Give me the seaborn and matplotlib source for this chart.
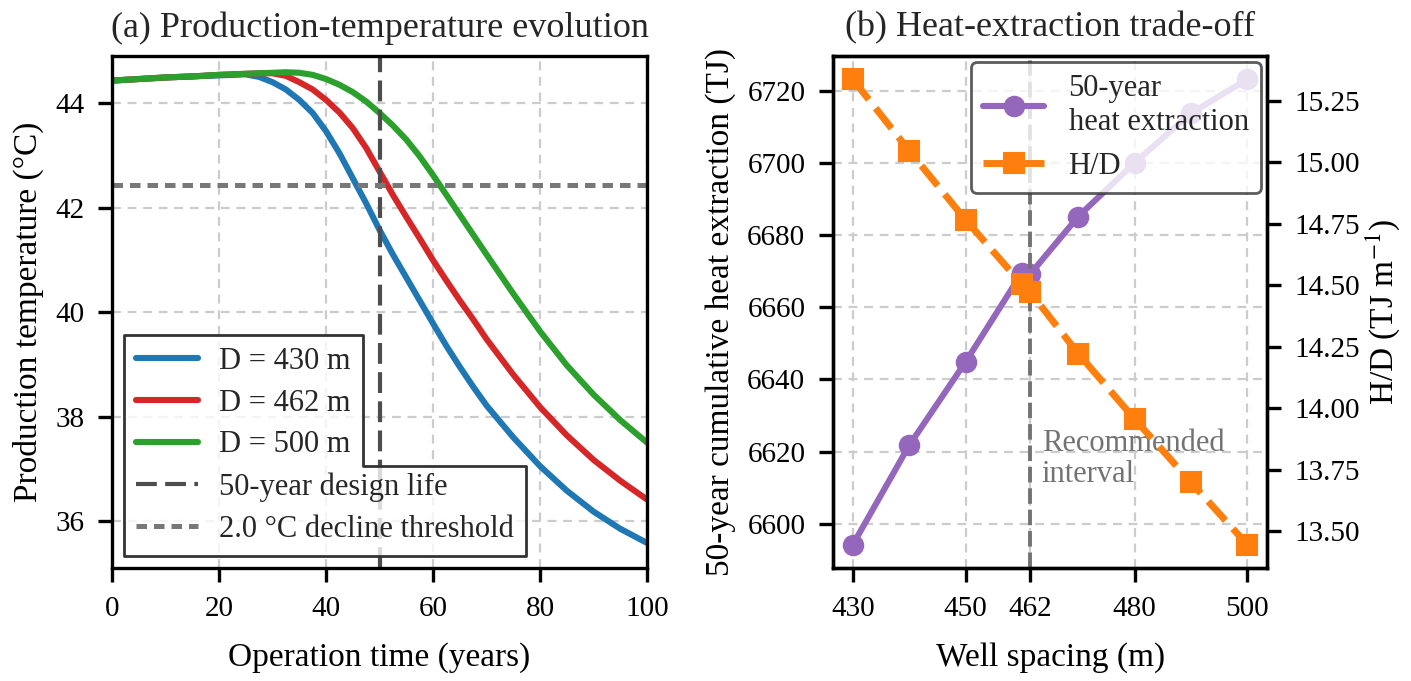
import matplotlib
matplotlib.use("Agg")
import matplotlib.pyplot as plt
import seaborn as sns
from matplotlib.patches import Polygon
from matplotlib.ticker import MultipleLocator, FormatStrFormatter

# ---- data ----
# (a) production temperature vs operation time
years = [0, 5, 10, 15, 20, 25, 27.5, 30, 32.5, 35, 37.5, 40, 42.5, 45, 47.5,
         50, 52.5, 55, 57.5, 60, 62.5, 65, 67.5, 70, 75, 80, 85, 90, 95, 100]
temp_430 = [44.43, 44.46, 44.49, 44.51, 44.53, 44.55, 44.50, 44.40, 44.26, 44.06,
            43.81, 43.46, 43.04, 42.56, 42.08, 41.57, 41.10, 40.66, 40.22, 39.78,
            39.35, 38.95, 38.57, 38.21, 37.60, 37.05, 36.58, 36.18, 35.85, 35.58]
temp_462 = [44.43, 44.46, 44.49, 44.51, 44.54, 44.56, 44.57, 44.57, 44.52, 44.40,
            44.26, 44.06, 43.82, 43.52, 43.14, 42.69, 42.24, 41.82, 41.41, 40.99,
            40.60, 40.22, 39.86, 39.48, 38.80, 38.18, 37.64, 37.17, 36.77, 36.41]
temp_500 = [44.43, 44.46, 44.49, 44.51, 44.54, 44.56, 44.57, 44.58, 44.59, 44.58,
            44.54, 44.46, 44.35, 44.21, 44.03, 43.81, 43.57, 43.30, 42.98, 42.62,
            42.24, 41.86, 41.48, 41.10, 40.35, 39.63, 38.98, 38.42, 37.93, 37.50]
curve_spacings = [430, 462, 500]
curve_colors = ["#1f77b4", "#d62728", "#2ca02c"]
design_life = 50
initial_temp = 44.43
decline_limit = 2.0

# (b) heat extraction trade-off
spacing = [430, 440, 450, 460, 461.5, 470, 480, 490, 500]
heat_50yr = [6594.2, 6621.7, 6644.8, 6669.5, 6669.2, 6685.1, 6700.0, 6713.7, 6723.1]
heat_per_spacing = [15.338, 15.048, 14.767, 14.505, 14.472, 14.223, 13.957, 13.700, 13.446]
recommended = 461.5
spacing_ticks = [430, 450, recommended, 480, 500]

# ---- style ----
sns.set_theme(style="ticks")
plt.rcParams["font.family"] = ["Liberation Serif", "DejaVu Serif"]
plt.rcParams["mathtext.fontset"] = "stix"
plt.rcParams["axes.linewidth"] = 1.2
plt.rcParams["axes.edgecolor"] = "black"
plt.rcParams["xtick.color"] = "black"
plt.rcParams["ytick.color"] = "black"
plt.rcParams["axes.labelcolor"] = "black"

grid_kw = dict(color="#cccccc", linestyle=(0, (4, 3)), linewidth=0.8)
tick_kw = dict(direction="out", length=5, width=1.2, labelsize=10.5, colors="black", pad=5)

fig = plt.figure(figsize=(7.055, 3.405), dpi=200)
ax1 = fig.add_axes([0.0794, 0.1659, 0.3792, 0.7518])
axb = fig.add_axes([0.5904, 0.1659, 0.3076, 0.7518])

# ---- (a) ----
for d, temps, c in zip(curve_spacings, [temp_430, temp_462, temp_500], curve_colors):
    sns.lineplot(x=years, y=temps, ax=ax1, color=c, linewidth=2.2, label=f"D = {d} m")
ax1.axvline(design_life, color="0.3", linewidth=1.5, linestyle=(0, (5, 2)),
            label=f"{design_life}-year design life")
ax1.axhline(initial_temp - decline_limit, color="0.47", linewidth=1.8,
            linestyle=(0, (2.1, 1.4)), label=f"{decline_limit:.1f} °C decline threshold")
ax1.set_xlim(0, 100)
ax1.set_ylim(35.1, 44.9)
ax1.grid(True, **grid_kw)
ax1.set_axisbelow(True)
ax1.tick_params(**tick_kw)
ax1.set_xlabel("Operation time (years)", fontsize=12, labelpad=7.5)
ax1.set_ylabel("Production temperature (°C)", fontsize=12)
ax1.set_title("(a) Production-temperature evolution", fontsize=13, pad=7)

leg1 = ax1.legend(loc="lower left", fontsize=11, frameon=False, handlelength=2.0,
                  handletextpad=0.7, borderpad=0.4, labelspacing=0.42, borderaxespad=0.4)

# ---- (b) ----
purple = "#9467bd"
orange = "#ff7f0e"
sns.lineplot(x=spacing, y=heat_50yr, ax=axb, color=purple, linewidth=2.2,
             marker="o", markersize=7, markeredgecolor=purple, legend=False)
axb_r = axb.twinx()
sns.lineplot(x=spacing, y=heat_per_spacing, ax=axb_r, color=orange, linewidth=2.5,
             linestyle="--", marker="s", markersize=7, markeredgecolor=orange, legend=False)
axb.axvline(recommended, color="0.45", linewidth=1.4, linestyle=(0, (4, 1.5)))
axb.text(recommended + 2.0, 6618, "Recommended\ninterval", color="0.45",
         fontsize=11, ha="left", va="center", linespacing=1.1)
axb.set_xticks(spacing_ticks)
axb.set_xticklabels([f"{v:.0f}" for v in spacing_ticks])
axb.grid(True, **grid_kw)
axb.set_axisbelow(True)
axb.tick_params(**tick_kw)
axb_r.tick_params(**tick_kw)
axb_r.yaxis.set_major_locator(MultipleLocator(0.25))
axb_r.yaxis.set_major_formatter(FormatStrFormatter("%.2f"))
axb.set_xlabel("Well spacing (m)", fontsize=12, labelpad=7.5)
axb.set_ylabel("50-year cumulative heat extraction (TJ)", fontsize=12)
axb_r.set_ylabel(r"H/D (TJ m$^{-1}$)", fontsize=12, labelpad=1)
axb.set_title("(b) Heat-extraction trade-off", fontsize=13, pad=7)
for sp in axb_r.spines.values():
    sp.set_linewidth(1.2)
    sp.set_color("black")

handles = [axb.get_lines()[0], axb_r.get_lines()[0]]
leg2 = axb_r.legend(handles, ["50-year\nheat extraction", "H/D"], loc="upper right",
                    fontsize=11, borderaxespad=0.2, fancybox=True, framealpha=0.8,
                    edgecolor="0.2", handlelength=2.0)
leg2.get_frame().set_linewidth(1.0)

# ---- stepped frame around the left legend ----
fig.canvas.draw()
renderer = fig.canvas.get_renderer()
bb = leg1.get_window_extent(renderer)
texts = leg1.get_texts()
pad = 0.4 * 11 * fig.dpi / 72
upper_right = max(t.get_window_extent(renderer).x1 for t in texts[:3]) + pad
step_y = 0.5 * (texts[2].get_window_extent(renderer).y0 + texts[3].get_window_extent(renderer).y1)
pts_disp = [(bb.x0, bb.y0), (bb.x1, bb.y0), (bb.x1, step_y), (upper_right, step_y),
            (upper_right, bb.y1), (bb.x0, bb.y1)]
pts_ax = ax1.transAxes.inverted().transform(pts_disp)
frame = Polygon(pts_ax, closed=True, transform=ax1.transAxes, facecolor=(1, 1, 1, 0.8),
                edgecolor="0.2", linewidth=1.0, zorder=4, joinstyle="round", clip_on=False)
ax1.add_patch(frame)

fig.savefig("out.png", dpi=200)
